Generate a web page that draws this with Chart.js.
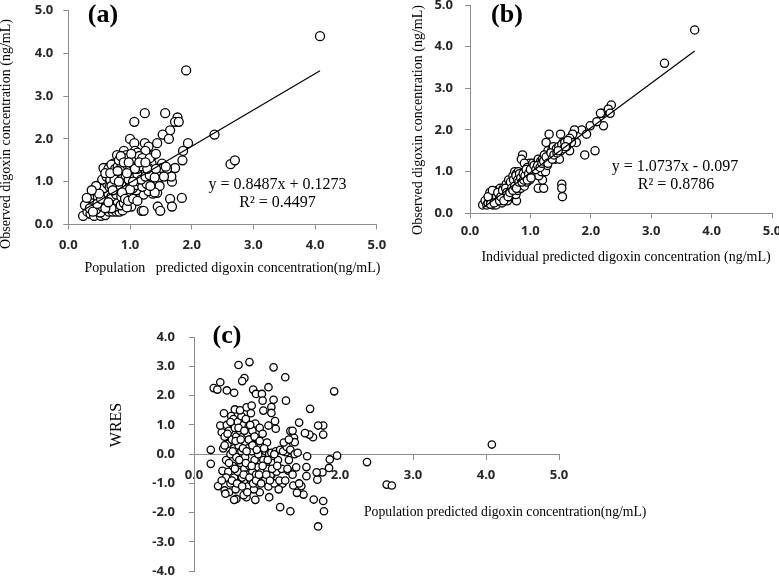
<!DOCTYPE html>
<html>
<head>
<meta charset="utf-8">
<script src="https://cdn.jsdelivr.net/npm/chart.js@4.4.1/dist/chart.umd.min.js"></script>
<style>
  html, body { margin: 0; padding: 0; background: #fff; }
  #wrap { position: relative; width: 779px; height: 576px; overflow: hidden; }
  #wrap canvas { position: absolute; left: 0; top: 0; }
</style>
</head>
<body>
<div id="wrap">
  <canvas id="chartA" width="779" height="576"></canvas>
  <canvas id="chartB" width="779" height="576"></canvas>
  <canvas id="chartC" width="779" height="576"></canvas>
</div>
<script>
// (a) population predicted vs observed digoxin concentration (ng/mL)
const pointsA = [
  [4.08, 4.4], [1.91, 3.6], [1.24, 2.6], [1.57, 2.6], [1.07, 2.4], [1.77, 2.5],
  [1.73, 2.4], [1.79, 2.4], [1.65, 2.2], [1.53, 2.1], [2.37, 2.1], [1.63, 2.0],
  [1.0, 2.0], [1.94, 1.9], [1.44, 1.9], [1.24, 1.9], [1.07, 1.9], [1.3, 1.82],
  [1.86, 1.72], [1.08, 1.72], [0.9, 1.72], [1.12, 1.68], [0.79, 1.62], [0.94, 1.62],
  [1.38, 1.62], [1.25, 1.72], [1.85, 1.5], [2.63, 1.41], [2.7, 1.5], [1.35, 1.42],
  [1.52, 1.42], [1.52, 1.32], [1.73, 1.32], [1.1, 1.5], [0.73, 1.42], [0.62, 1.32],
  [0.57, 1.32], [1.68, 1.0], [1.67, 1.12], [1.84, 0.62], [1.65, 0.6], [1.68, 0.42],
  [1.45, 0.42], [1.49, 0.32], [1.19, 0.32], [1.22, 0.32], [1.02, 0.42], [1.37, 0.72],
  [1.26, 0.78], [1.3, 1.32], [1.23, 1.2], [1.44, 1.0], [1.22, 0.9], [1.44, 0.74],
  [1.6, 1.3], [1.38, 1.1], [1.48, 0.9],
  [0.24, 0.2], [0.31, 0.3], [0.36, 0.25], [0.42, 0.2], [0.48, 0.3], [0.53, 0.2],
  [0.56, 0.32], [0.6, 0.22], [0.66, 0.3], [0.72, 0.3], [0.78, 0.3], [0.83, 0.3],
  [0.88, 0.33], [0.52, 0.28], [0.45, 0.35],
  [0.3, 0.5], [0.33, 0.42], [0.38, 0.55], [0.41, 0.45], [0.46, 0.6], [0.5, 0.5],
  [0.55, 0.42], [0.58, 0.55], [0.63, 0.45], [0.68, 0.58], [0.72, 0.5], [0.76, 0.42],
  [0.8, 0.55], [0.85, 0.45], [0.9, 0.5], [0.95, 0.4], [0.7, 0.38], [0.62, 0.6], [0.27, 0.45],
  [0.35, 0.62], [0.4, 0.7], [0.44, 0.78], [0.48, 0.65], [0.52, 0.75], [0.56, 0.68],
  [0.6, 0.8], [0.65, 0.7], [0.7, 0.65], [0.74, 0.78], [0.78, 0.7], [0.82, 0.8],
  [0.86, 0.65], [0.92, 0.72], [0.98, 0.78], [1.02, 0.7], [1.08, 0.65], [1.15, 0.75],
  [1.22, 0.7], [1.3, 0.78], [1.4, 0.75], [1.1, 0.8],
  [0.5, 0.9], [0.55, 1.0], [0.58, 0.85], [0.63, 0.95], [0.67, 0.88], [0.72, 1.0],
  [0.76, 0.9], [0.8, 0.95], [0.85, 0.88], [0.9, 1.0], [0.95, 0.9], [1.0, 0.95],
  [1.05, 0.85], [1.1, 0.92], [1.15, 1.0], [1.2, 0.88], [1.27, 0.95], [1.33, 0.9], [1.0, 0.82],
  [0.55, 1.05], [0.62, 1.12], [0.68, 1.05], [0.73, 1.18], [0.78, 1.1], [0.84, 1.2],
  [0.88, 1.1], [0.93, 1.15], [0.98, 1.05], [1.03, 1.2], [1.08, 1.1], [1.12, 1.18],
  [1.18, 1.05], [1.25, 1.12], [1.32, 1.15], [1.4, 1.1], [1.55, 1.12],
  [0.65, 1.3], [0.7, 1.4], [0.76, 1.3], [0.8, 1.35], [0.86, 1.42], [0.9, 1.3],
  [0.96, 1.38], [1.0, 1.28], [1.05, 1.4], [1.12, 1.3], [1.18, 1.36], [1.28, 1.3],
  [1.42, 1.3], [1.58, 1.35],
  [0.82, 1.5], [0.95, 1.55], [1.02, 1.5], [1.15, 1.6], [1.2, 1.55], [1.32, 1.55],
  [1.42, 1.65], [1.02, 1.65],
  [0.35, 0.38], [0.4, 0.3], [0.47, 0.48], [0.53, 0.6], [0.6, 0.38], [0.65, 0.52],
  [0.7, 0.9], [0.75, 1.05], [0.82, 1.0], [0.87, 0.75], [0.92, 0.6], [0.97, 0.55],
  [1.05, 0.6], [1.12, 0.55], [0.6, 1.2], [0.68, 1.2], [0.72, 0.8], [0.8, 1.25],
  [0.85, 1.6], [0.9, 1.45], [0.98, 1.45], [1.08, 1.3], [1.15, 1.45], [1.25, 1.45],
  [0.45, 0.9], [0.5, 0.72], [0.38, 0.8], [0.3, 0.62], [0.95, 1.2], [1.05, 1.0]
];
const trendA = [0.8487, 0.1273];

// (b) individual predicted vs observed digoxin concentration (ng/mL)
const pointsB = [
  [3.72, 4.4], [3.22, 3.6], [2.34, 2.6], [2.29, 2.5], [2.18, 2.4], [2.32, 2.4],
  [2.16, 2.4], [2.21, 2.1], [1.99, 2.1], [2.1, 2.2], [1.85, 2.0], [1.73, 2.0],
  [1.93, 1.9], [1.7, 1.9], [1.76, 1.7], [1.65, 1.8], [1.68, 1.7], [1.31, 1.9],
  [1.5, 1.9], [1.26, 1.7], [1.54, 1.7], [1.9, 1.4], [2.07, 1.5], [1.65, 1.5],
  [1.52, 0.7], [1.52, 0.6], [1.53, 0.4], [1.13, 0.6], [1.22, 0.6], [1.2, 0.8],
  [0.87, 1.4], [0.85, 1.3], [1.29, 1.5], [0.99, 1.2], [0.9, 1.2], [0.77, 0.3], [0.21, 0.2],
  [0.25, 0.3], [0.28, 0.2], [0.3, 0.25], [0.32, 0.35], [0.33, 0.5], [0.35, 0.3],
  [0.36, 0.42], [0.38, 0.2], [0.4, 0.35], [0.41, 0.5], [0.42, 0.28], [0.44, 0.4],
  [0.45, 0.55], [0.43, 0.2],
  [0.47, 0.3], [0.48, 0.45], [0.5, 0.6], [0.5, 0.35], [0.52, 0.5], [0.53, 0.25],
  [0.55, 0.4], [0.55, 0.6], [0.57, 0.55], [0.58, 0.35], [0.6, 0.45], [0.6, 0.7],
  [0.62, 0.3], [0.62, 0.6], [0.63, 0.5], [0.64, 0.8], [0.65, 0.4],
  [0.66, 0.65], [0.67, 0.55], [0.68, 0.45], [0.7, 0.75], [0.7, 0.6], [0.71, 0.9],
  [0.72, 0.5], [0.73, 0.7], [0.74, 1.0], [0.75, 0.6], [0.75, 0.8], [0.76, 0.45],
  [0.77, 0.95], [0.78, 0.7], [0.79, 0.55], [0.8, 0.85], [0.8, 1.0], [0.82, 0.7],
  [0.83, 0.9], [0.84, 0.6], [0.85, 0.8],
  [0.86, 0.95], [0.87, 0.7], [0.88, 0.85], [0.9, 1.0], [0.9, 0.65], [0.92, 0.8],
  [0.93, 0.95], [0.94, 0.75], [0.95, 1.1], [0.96, 0.85], [0.98, 1.0], [0.99, 0.8],
  [1.0, 0.95], [1.02, 1.1], [1.03, 0.9], [1.04, 1.2], [1.05, 1.0],
  [1.07, 1.1], [1.08, 0.95], [1.1, 1.2], [1.11, 1.05], [1.13, 1.3], [1.14, 0.9],
  [1.15, 1.15], [1.17, 1.25], [1.18, 1.0], [1.2, 1.3], [1.21, 1.1], [1.23, 1.4],
  [1.24, 1.2], [1.25, 1.0], [1.27, 1.3], [1.28, 1.15], [1.3, 1.25],
  [1.32, 1.4], [1.33, 1.3], [1.35, 1.5], [1.37, 1.35], [1.38, 1.6], [1.4, 1.45],
  [1.41, 1.3], [1.43, 1.55], [1.45, 1.4], [1.47, 1.6], [1.48, 1.3], [1.5, 1.5],
  [1.52, 1.65], [1.55, 1.55], [1.57, 1.7], [1.6, 1.6], [1.62, 1.75],
  [0.3, 0.4], [0.34, 0.22], [0.37, 0.55], [0.4, 0.25], [0.46, 0.5], [0.49, 0.3],
  [0.51, 0.4], [0.54, 0.55], [0.56, 0.3], [0.59, 0.6], [0.61, 0.5], [0.63, 0.4],
  [0.66, 0.5], [0.67, 0.75], [0.69, 0.6], [0.71, 0.55], [0.72, 0.8], [0.74, 0.65],
  [0.76, 0.9], [0.77, 0.6], [0.79, 0.8], [0.81, 0.75], [0.82, 0.95], [0.84, 0.85],
  [0.86, 0.75], [0.88, 0.95], [0.89, 0.8], [0.91, 0.9], [0.93, 1.05], [0.95, 0.8],
  [0.97, 0.95], [1.0, 1.05], [1.01, 0.85], [1.06, 1.15], [1.09, 1.05], [1.12, 1.15],
  [1.16, 1.1], [1.19, 1.2], [1.22, 1.25], [1.26, 1.35], [1.29, 1.2], [1.34, 1.45],
  [1.36, 1.3], [1.39, 1.4], [1.44, 1.45], [1.46, 1.5], [1.58, 1.6]
];
const trendB = [1.0737, -0.097];

// (c) population predicted concentration vs WRES
const pointsC = [
  [4.08, 0.33], [2.64, -1.04], [2.71, -1.07], [2.37, -0.27], [1.92, 2.15], [1.96, -0.05],
  [1.86, -0.18], [1.85, -0.47], [1.77, -1.6], [1.78, -1.95], [1.7, -2.47], [1.64, -1.55],
  [1.76, -0.62], [1.69, -0.87], [1.68, -0.62], [1.77, 0.98], [1.7, 0.98], [1.77, 0.67],
  [1.59, 1.55], [1.63, 0.58], [1.58, 0.67], [1.52, 0.72], [1.44, 1.08], [1.55, -0.07],
  [1.54, -0.44], [1.54, -0.75], [1.5, -1.38], [1.47, -1.09], [1.41, -1.32], [1.32, -1.95],
  [1.18, -1.81], [1.03, -1.47], [1.25, 2.63], [1.09, 2.97], [0.76, 3.15], [0.61, 3.05],
  [0.69, 2.6], [0.66, 2.5], [0.36, 2.46], [0.27, 2.26], [0.32, 2.21], [0.45, 2.18],
  [0.55, 2.1], [0.81, 2.21], [0.85, 2.06], [0.93, 2.06], [1.02, 2.29], [0.94, 1.83],
  [1.09, 1.86], [1.26, 1.83], [0.72, 1.6], [0.79, 1.66], [0.56, 1.53], [0.95, 1.49],
  [1.06, 1.61], [1.06, 1.41], [1.11, 1.13], [1.12, 0.87], [1.02, 0.98], [1.32, 0.79],
  [1.37, 0.56], [1.38, 0.41], [0.23, 0.15], [0.23, -0.33], [0.33, -1.09], [0.38, 0.75],
  [0.36, 0.98], [0.39, -0.57], [0.42, -1.24], [0.48, -1.3], [0.58, -1.53], [0.55, -1.56],
  [0.72, -1.47], [0.84, -1.56], [0.9, -1.3], [1.26, 0.07], [1.29, -0.56], [1.36, -1.07],
  [1.21, -1.01],
  [0.4, 0.2], [0.42, 0.6], [0.44, -0.2], [0.45, 1.0], [0.46, 0.35], [0.47, -0.6],
  [0.48, 0.8], [0.5, -1.0], [0.5, 0.0], [0.51, 1.3], [0.52, 0.5], [0.53, -0.4],
  [0.54, 1.2], [0.55, -0.8], [0.55, 0.2], [0.56, 0.9], [0.57, -1.2], [0.58, 0.6], [0.58, -0.1],
  [0.6, 1.1], [0.6, -0.6], [0.61, 0.3], [0.62, -1.0], [0.63, 0.8], [0.64, -0.3],
  [0.65, 1.3], [0.65, 0.1], [0.66, -0.8], [0.67, 0.6], [0.68, -1.4], [0.68, 1.0],
  [0.69, -0.5], [0.7, 0.4], [0.7, -0.1], [0.71, 1.2], [0.72, -0.7], [0.73, 0.7],
  [0.74, -1.1], [0.74, 0.2], [0.75, 0.95],
  [0.76, -0.4], [0.77, 0.5], [0.78, -0.9], [0.78, 1.4], [0.79, 0.1], [0.8, -0.6],
  [0.8, 0.8], [0.82, -1.2], [0.82, 0.3], [0.83, -0.2], [0.84, 1.05], [0.85, -0.7],
  [0.86, 0.55], [0.87, -1.0], [0.88, 0.0], [0.88, -0.45], [0.9, 0.9], [0.91, -0.8],
  [0.92, 0.3], [0.93, -0.6], [0.94, 0.7], [0.95, -0.2],
  [0.97, -0.9], [0.98, 0.1], [1.0, -0.5], [1.0, 0.4], [1.02, -1.1], [1.03, 0.0],
  [1.05, -0.7], [1.06, 0.05], [1.08, -0.3], [1.1, -1.0], [1.12, 0.1], [1.13, -0.6],
  [1.15, -0.2], [1.17, -0.9], [1.18, 0.15], [1.2, -0.5], [1.22, 0.1], [1.25, -0.9],
  [1.27, 0.25], [1.3, -0.2], [1.32, 0.15], [1.35, -0.7], [1.38, 0.0], [1.4, -0.45],
  [1.42, 0.05], [1.44, -1.0], [1.23, 0.4], [1.3, 0.5], [1.35, 0.8], [1.28, -0.5],
  [0.42, 0.3], [0.44, -0.8], [0.46, 0.7], [0.48, -0.3], [0.5, 1.1], [0.52, -0.9],
  [0.53, 0.1], [0.56, -0.5], [0.57, 0.45], [0.59, -1.0], [0.61, 0.9], [0.62, -0.2],
  [0.63, 1.5], [0.64, 0.5], [0.66, -1.1], [0.67, 0.2], [0.68, -0.7], [0.69, 0.8],
  [0.71, -0.3], [0.72, 0.1], [0.73, -1.3], [0.75, 0.5], [0.76, -0.8], [0.77, 1.0],
  [0.79, -0.4], [0.8, 0.3], [0.81, -1.0], [0.83, 0.6], [0.85, -0.9], [0.86, 0.15],
  [0.89, -0.7], [0.9, 0.45], [0.92, -1.0], [0.94, -0.4], [0.96, 0.2], [0.99, -0.7],
  [1.01, -0.2], [1.04, -0.9], [1.07, -0.5], [1.1, 0.0], [1.14, -0.4], [1.16, -1.2],
  [0.38, -0.9], [0.41, 1.4], [0.43, -1.35]
];

const axisGray = '#8c8c8c';
const tickFont = { family: 'Open Sans', size: 13, weight: 'bold' };
const serif = '"Liberation Serif", "Times New Roman", serif';

// draws panel letters, equations and axis titles
const panelText = {
  id: 'panelText',
  afterDraw(chart, args, opts) {
    const ctx = chart.ctx;
    (opts.items || []).forEach(t => {
      ctx.save();
      ctx.font = t.font;
      ctx.fillStyle = '#000';
      ctx.textAlign = t.align || 'center';
      ctx.textBaseline = 'middle';
      ctx.translate(t.x, t.y);
      if (t.rotate) ctx.rotate(t.rotate);
      ctx.fillText(t.text, 0, 0);
      ctx.restore();
    });
  }
};

function toXY(list) {
  return list.map(p => ({ x: p[0], y: p[1] }));
}

function trendLine(list, coef) {
  const xs = list.map(p => p[0]);
  const lo = Math.min(...xs), hi = Math.max(...xs);
  return [{ x: lo, y: coef[0] * lo + coef[1] }, { x: hi, y: coef[0] * hi + coef[1] }];
}

function axis(min, max, pad, fit) {
  return {
    type: 'linear', min: min, max: max,
    ticks: { stepSize: 1, color: '#262626', font: tickFont, padding: pad,
             callback: v => v.toFixed(1) },
    grid: { drawOnChartArea: false, drawTicks: true, tickLength: 5, color: axisGray },
    border: { color: axisGray, width: 1 },
    afterFit: fit
  };
}
const fitY = s => { s.width = 60; s.paddingTop = 0; s.paddingBottom = 0; };
const fitX = s => { s.height = 40; s.paddingLeft = 0; s.paddingRight = 0; };

function makePanel(id, points, coef, radius, padding, xAxis, yAxis, texts) {
  const datasets = [];
  if (coef) {
    datasets.push({
      type: 'line', data: trendLine(points, coef), borderColor: '#000',
      borderWidth: 1.2, pointRadius: 0, fill: false
    });
  }
  datasets.push({
    data: toXY(points), pointRadius: radius, pointHoverRadius: radius,
    pointBackgroundColor: '#fff', pointBorderColor: '#000', pointBorderWidth: 1.3
  });
  return new Chart(document.getElementById(id), {
    type: 'scatter',
    data: { datasets: datasets },
    options: {
      responsive: false, animation: false, events: [],
      layout: { padding: padding, autoPadding: false },
      scales: { x: xAxis, y: yAxis },
      plugins: { legend: { display: false }, tooltip: { enabled: false },
                 panelText: { items: texts } }
    },
    plugins: [panelText]
  });
}

makePanel('chartA', pointsA, trendA, 4.5,
  { left: 8.3, right: 402.2, top: 10.5, bottom: 311.5 },
  axis(0, 5, 8, fitX), axis(0, 5, 10, fitY),
  [
    { text: '(a)', x: 103, y: 15, font: 'bold 26px ' + serif },
    { text: 'y = 0.8487x + 0.1273', x: 277.5, y: 185, font: '16px ' + serif },
    { text: 'R² = 0.4497', x: 277.5, y: 203, font: '16px ' + serif },
    { text: 'Population   predicted digoxin concentration(ng/mL)', x: 232.5, y: 268, font: '14px ' + serif },
    { text: 'Observed digoxin concentration (ng/mL)', x: 6, y: 134, rotate: -Math.PI / 2, font: '14px ' + serif }
  ]);

makePanel('chartB', pointsB, trendB, 4.1,
  { left: 410, right: 7, top: 5, bottom: 322.7 },
  axis(0, 5, 5, fitX), axis(0, 5, 12, fitY),
  [
    { text: '(b)', x: 507, y: 15, font: 'bold 26px ' + serif },
    { text: 'y = 1.0737x - 0.097', x: 675, y: 167, font: '16px ' + serif },
    { text: 'R² = 0.8786', x: 676, y: 185, font: '16px ' + serif },
    { text: 'Individual predicted digoxin concentration (ng/mL)', x: 626, y: 257, font: '14px ' + serif },
    { text: 'Observed digoxin concentration (ng/mL)', x: 418, y: 120, rotate: -Math.PI / 2, font: '14px ' + serif }
  ]);

const xAxisC = axis(0, 5, 8, null);
xAxisC.position = { y: 0 };
makePanel('chartC', pointsC, null, 3.7,
  { left: 134, right: 220, top: 337.2, bottom: 4.8 },
  xAxisC, axis(-4, 4, 14, fitY),
  [
    { text: '(c)', x: 227, y: 336, font: 'bold 26px ' + serif },
    { text: 'WRES', x: 117, y: 425, rotate: -Math.PI / 2, font: '16px ' + serif },
    { text: 'Population predicted digoxin concentration(ng/mL)', x: 364, y: 512, align: 'left', font: '13.7px ' + serif }
  ]);
</script>
</body>
</html>
